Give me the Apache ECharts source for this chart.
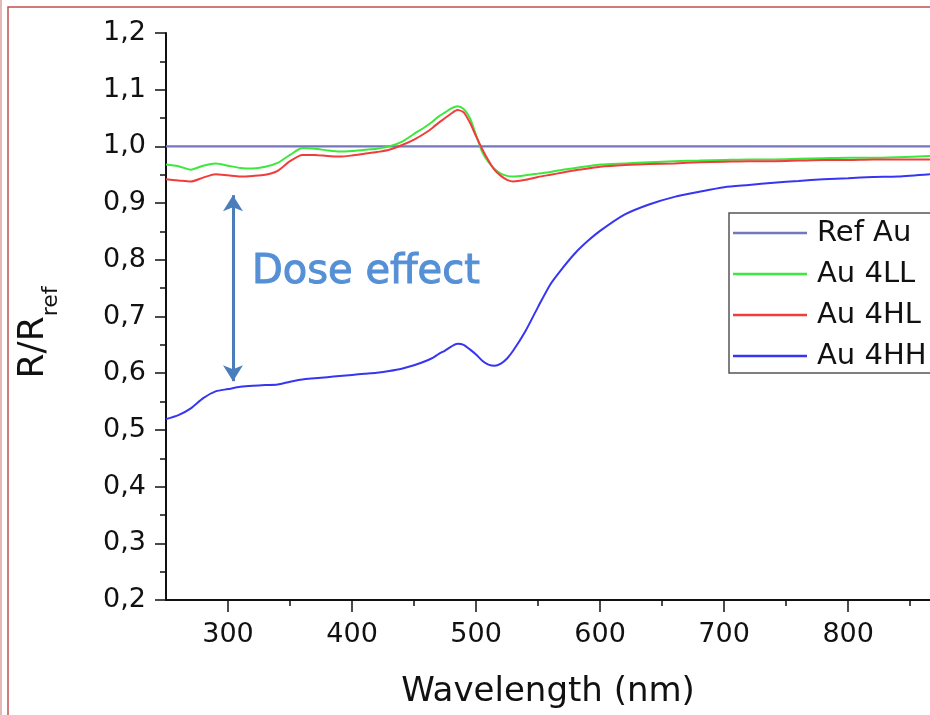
<!DOCTYPE html>
<html>
<head>
<meta charset="utf-8">
<script src="https://cdn.jsdelivr.net/npm/echarts@6/dist/echarts.min.js"></script>
<style>
  html, body { margin: 0; padding: 0; background: #fff; }
  #chart { width: 930px; height: 715px; }
</style>
</head>
<body>
<div id="chart"></div>
<script>
// Wavelength grid (nm) shared by the sample spectra
const wavelength = [250,260,270,280,290,300,310,320,330,340,350,360,370,380,390,400,410,420,430,440,
  450,460,465,470,475,480,485,490,495,500,505,510,515,520,525,530,
  540,550,560,570,580,590,600,620,640,660,680,700,720,740,760,780,800,820,840,866];

// Relative reflectance R/Rref of each sample
const au4LL = [0.968,0.965,0.959,0.966,0.970,0.966,0.962,0.961,0.964,0.971,0.985,0.997,0.996,0.993,0.991,0.992,0.994,0.996,1.000,1.008,
  1.022,1.036,1.044,1.053,1.060,1.067,1.071,1.066,1.050,1.020,0.990,0.972,0.960,0.952,0.948,0.947,
  0.949,0.952,0.955,0.959,0.962,0.965,0.968,0.970,0.972,0.974,0.975,0.976,0.977,0.977,0.978,0.979,0.980,0.980,0.981,0.983];
const au4HL = [0.942,0.940,0.938,0.945,0.951,0.949,0.947,0.948,0.950,0.957,0.974,0.985,0.985,0.983,0.982,0.984,0.987,0.990,0.994,1.002,
  1.012,1.025,1.033,1.042,1.050,1.058,1.064,1.060,1.042,1.018,0.995,0.975,0.958,0.948,0.941,0.938,
  0.941,0.946,0.950,0.954,0.958,0.961,0.964,0.967,0.969,0.970,0.972,0.973,0.974,0.974,0.975,0.976,0.976,0.977,0.977,0.977];
const au4HH = [0.519,0.526,0.538,0.556,0.568,0.572,0.576,0.578,0.579,0.580,0.585,0.589,0.591,0.593,0.595,0.597,0.599,0.601,0.604,0.608,
  0.614,0.622,0.627,0.634,0.640,0.647,0.652,0.650,0.642,0.633,0.622,0.615,0.613,0.617,0.626,0.640,
  0.675,0.717,0.757,0.786,0.812,0.833,0.851,0.880,0.898,0.911,0.920,0.928,0.932,0.936,0.939,0.942,0.944,0.946,0.947,0.951];

// Reference gold is 1 by definition
const refWavelength = [250, 866];
const refAu = [1.0, 1.0];

// Axis ticks
const xMajorTicks = [300, 400, 500, 600, 700, 800];
const xMinorTicks = [350, 450, 550, 650, 750, 850];

// Dose-effect arrow between the 4HL and 4HH curves
const doseArrowX = 304;
const doseArrowFrom = 0.914;
const doseArrowTo = 0.586;

const seriesNames = ['Ref Au', 'Au 4LL', 'Au 4HL', 'Au 4HH'];
const colors = ['#7676bf', '#3de83d', '#f23c3c', '#3636f2'];

const pairs = (xs, ys) => xs.map((x, i) => [x, ys[i]]);
const FONT = '"DejaVu Sans", Verdana, sans-serif';

const chart = echarts.init(document.getElementById('chart'), null, { renderer: 'canvas' });

chart.setOption({
  animation: false,
  backgroundColor: '#ffffff',
  color: colors,
  grid: { left: 166, top: 33, right: 0, bottom: 115, containLabel: false, outerBoundsMode: 'none' },
  legend: {
    data: seriesNames,
    orient: 'vertical',
    left: 729,
    top: 213,
    padding: [3, 60, 0, 4],
    icon: 'rect',
    itemWidth: 74,
    itemHeight: 2.5,
    itemGap: 7,
    borderColor: '#555',
    borderWidth: 1.5,
    selectedMode: false,
    textStyle: { fontFamily: FONT, fontSize: 29, color: '#111', lineHeight: 34, padding: [0, 0, 0, 5] }
  },
  xAxis: [{
    type: 'value',
    min: 250,
    max: 866,
    name: 'Wavelength (nm)',
    nameLocation: 'middle',
    nameGap: 75,
    nameTextStyle: { fontFamily: FONT, fontSize: 34, color: '#111' },
    axisLine: { show: true, lineStyle: { color: '#111', width: 2 } },
    axisTick: { show: true, customValues: xMajorTicks, length: 12, lineStyle: { color: '#111', width: 1.5 } },
    axisLabel: { customValues: xMajorTicks, fontFamily: FONT, fontSize: 27, color: '#111', margin: 21 },
    splitLine: { show: false }
  }, {
    type: 'value',
    min: 250,
    max: 866,
    position: 'bottom',
    axisLine: { show: false },
    axisTick: { show: true, customValues: xMinorTicks, length: 6, lineStyle: { color: '#111', width: 1.5 } },
    axisLabel: { show: false },
    splitLine: { show: false }
  }],
  yAxis: {
    type: 'value',
    min: 0.2,
    max: 1.2,
    interval: 0.1,
    name: '{a|R/R}{b|ref}',
    nameLocation: 'middle',
    nameGap: 104,
    nameRotate: 90,
    nameTextStyle: {
      padding: [0, 32, 0, 0],
      rich: {
        a: { fontFamily: FONT, fontSize: 36, color: '#111', lineHeight: 36, verticalAlign: 'top' },
        b: { fontFamily: FONT, fontSize: 22, color: '#111', lineHeight: 46, verticalAlign: 'bottom' }
      }
    },
    axisLine: { show: true, lineStyle: { color: '#111', width: 2 } },
    axisTick: { show: true, length: 11, lineStyle: { color: '#111', width: 1.5 } },
    minorTick: { show: true, splitNumber: 2, length: 6, lineStyle: { color: '#111', width: 1.5 } },
    axisLabel: {
      fontFamily: FONT, fontSize: 27, color: '#111', margin: 20,
      formatter: v => v.toFixed(1).replace('.', ',')
    },
    splitLine: { show: false }
  },
  series: [
    {
      name: 'Ref Au', type: 'line', data: pairs(refWavelength, refAu),
      showSymbol: false, symbol: 'none', lineStyle: { width: 2.2 },
      markLine: {
        silent: true,
        symbol: ['arrow', 'arrow'],
        symbolSize: [15, 16],
        label: { show: false },
        lineStyle: { color: '#4a7ebb', width: 3, type: 'solid' },
        data: [[{ coord: [doseArrowX, doseArrowFrom] }, { coord: [doseArrowX, doseArrowTo] }]]
      }
    },
    { name: 'Au 4LL', type: 'line', data: pairs(wavelength, au4LL), showSymbol: false, symbol: 'none', smooth: 0.25, lineStyle: { width: 2 } },
    { name: 'Au 4HL', type: 'line', data: pairs(wavelength, au4HL), showSymbol: false, symbol: 'none', smooth: 0.25, lineStyle: { width: 2 } },
    { name: 'Au 4HH', type: 'line', data: pairs(wavelength, au4HH), showSymbol: false, symbol: 'none', smooth: 0.25, lineStyle: { width: 2 } }
  ],
  graphic: [
    // slide frame
    { type: 'line', shape: { x1: 1, y1: 0, x2: 1, y2: 715 }, style: { stroke: '#d08a88', lineWidth: 1.2 }, silent: true },
    { type: 'rect', shape: { x: 8, y: 7, width: 1000, height: 800 }, style: { stroke: '#c0504d', lineWidth: 1.5, fill: null }, silent: true },
    // annotation
    { type: 'text', x: 252, y: 273, silent: true,
      style: { text: 'Dose effect', fontFamily: '"DejaVu Sans", Verdana, sans-serif', fontSize: 40, fill: '#5590d6',
               stroke: '#5590d6', lineWidth: 1, verticalAlign: 'middle' } }
  ]
});
</script>
</body>
</html>
